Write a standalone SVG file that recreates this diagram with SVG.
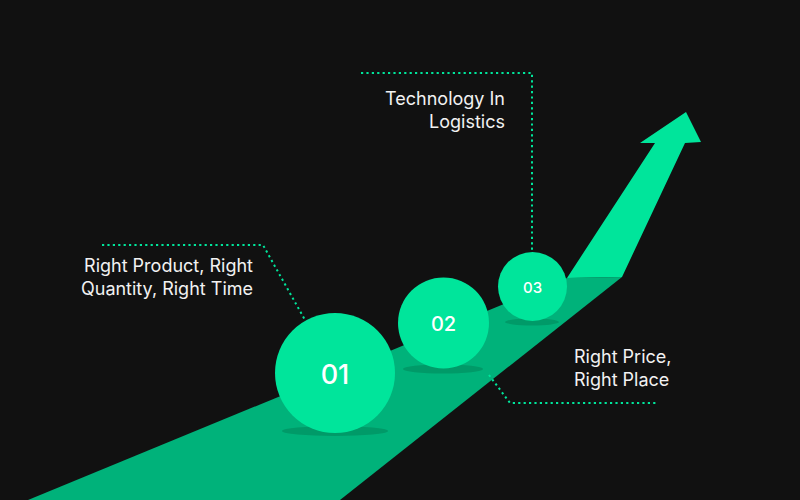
<svg xmlns="http://www.w3.org/2000/svg" width="800" height="500" viewBox="0 0 800 500">
<style>
.lbl{font-family:Inter,"Liberation Sans",sans-serif;font-size:18px;fill:#f2f2f2}
.num{font-family:Inter,"Liberation Sans",sans-serif;font-weight:500;fill:#ffffff;text-anchor:middle;dominant-baseline:central}
.ball{fill:#00e59b}
.shadow{fill:#009a68}
.dot{fill:none;stroke:#00e59b;stroke-width:2;stroke-dasharray:2.2 3.2}
</style>
<rect width="800" height="500" fill="#111111"/>
<g id="ramp">
<polygon points="28,500 567,278 622,277 340,500" fill="#00b27a"/>
<polygon points="567,278 655,143 640,143 686,112 701,142 685,143 622,277" fill="#00e59b"/>
</g>
<g id="connectors">
<polyline class="dot" points="102,245 263,245 305,320"/>
<polyline class="dot" points="361,73 532,73 532,252"/>
<polyline class="dot" points="489,375 510,403 657,403"/>
</g>
<g id="node-01">
<ellipse class="shadow" cx="335" cy="431" rx="53" ry="5"/>
<circle class="ball" cx="335" cy="373" r="60"/>
<text class="num" x="335" y="374" font-size="27">01</text>
</g>
<g id="node-02">
<ellipse class="shadow" cx="443" cy="369" rx="40" ry="4.5"/>
<circle class="ball" cx="443.5" cy="323" r="45.5"/>
<text class="num" x="443.5" y="324" font-size="20">02</text>
</g>
<g id="node-03">
<ellipse class="shadow" cx="532" cy="322" rx="27" ry="3.5"/>
<circle class="ball" cx="532.5" cy="286.5" r="34.5"/>
<text class="num" x="532.5" y="287" font-size="15">03</text>
</g>
<g id="label-01">
<text class="lbl" x="253" y="272" text-anchor="end">Right Product, Right</text>
<text class="lbl" x="253" y="295" text-anchor="end">Quantity, Right Time</text>
</g>
<g id="label-03">
<text class="lbl" x="505" y="105" text-anchor="end">Technology In</text>
<text class="lbl" x="505" y="128" text-anchor="end">Logistics</text>
</g>
<g id="label-02">
<text class="lbl" x="574" y="363">Right Price,</text>
<text class="lbl" x="574" y="386">Right Place</text>
</g>
</svg>
